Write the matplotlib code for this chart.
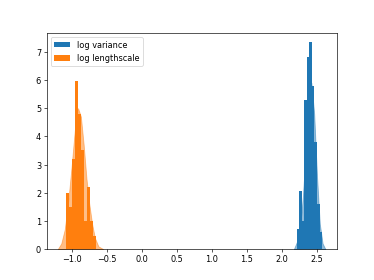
import numpy as np
import matplotlib
matplotlib.use("Agg")
import matplotlib.pyplot as plt

# log variance histogram (density)
var_edges = [2.214, 2.250, 2.286, 2.321, 2.357, 2.393, 2.429, 2.464, 2.500, 2.536, 2.571]
var_heights = [0.7, 2.07, 1.0, 5.3, 6.8, 7.33, 5.8, 3.8, 1.6, 0.6]
# log lengthscale histogram (density)
len_edges = [-1.086, -1.043, -1.000, -0.957, -0.914, -0.871, -0.829, -0.786, -0.743, -0.700, -0.657]
len_heights = [1.98, 1.48, 3.2, 5.98, 4.8, 3.5, 1.0, 2.2, 1.0, 0.46]

# KDE curves
var_kde_x = [2.17, 2.22, 2.26, 2.30, 2.34, 2.38, 2.42, 2.46, 2.50, 2.54, 2.58, 2.62]
var_kde_y = [0.0, 0.3, 0.8, 1.9, 3.6, 5.3, 5.9, 4.8, 2.6, 0.9, 0.2, 0.0]
len_kde_x = [-1.20, -1.15, -1.10, -1.05, -1.00, -0.95, -0.91, -0.87, -0.83, -0.79, -0.75, -0.71, -0.67, -0.62, -0.55]
len_kde_y = [0.0, 0.2, 0.7, 1.7, 3.0, 4.4, 5.0, 4.7, 3.7, 2.5, 1.6, 0.9, 0.4, 0.1, 0.0]

fig, ax = plt.subplots(figsize=(6.4, 4.8), dpi=374 / 6.4)

blue = "#1f77b4"
orange = "#ff7f0e"

ax.stairs(var_heights, var_edges, fill=True, color=blue, label="log variance")
ax.stairs(len_heights, len_edges, fill=True, color=orange, label="log lengthscale")
ax.fill_between(var_kde_x, var_kde_y, color=blue, alpha=0.5, lw=1)
ax.fill_between(len_kde_x, len_kde_y, color=orange, alpha=0.5, lw=1)

ax.set_xlim(-1.357, 2.78)
ax.set_ylim(0, 7.66)
ax.legend(loc="upper left")

fig.savefig("out.png", dpi=374 / 6.4)
